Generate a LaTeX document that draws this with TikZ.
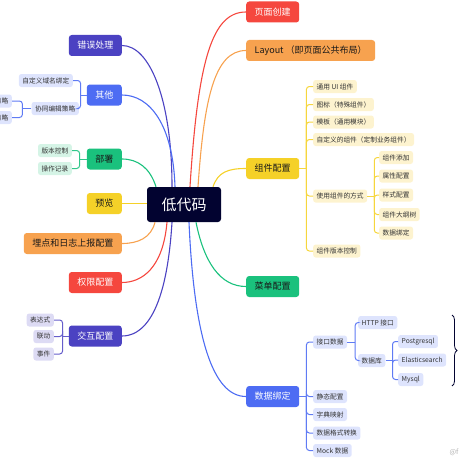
\documentclass[tikz,border=0pt]{standalone}
\usepackage{fontspec}
\setmainfont{Noto Sans CJK SC}
\usetikzlibrary{decorations.pathreplacing}

\definecolor{navy}{HTML}{020330}
\definecolor{mred}{HTML}{F5473E}
\definecolor{morange}{HTML}{F7A24F}
\definecolor{myellow}{HTML}{F5D128}
\definecolor{mgreen}{HTML}{1AC17D}
\definecolor{mblue}{HTML}{4D6CF3}
\definecolor{mindigo}{HTML}{4B42C2}
\definecolor{lyellow}{HTML}{FDF3CF}
\definecolor{lblue}{HTML}{DEE4FD}
\definecolor{lgreen}{HTML}{D5F4E6}
\definecolor{lindigo}{HTML}{DDDBF4}
\definecolor{leaftext}{HTML}{333333}

\tikzset{
  root/.style={fill=navy, text=white, rounded corners=3pt, font=\fontsize{15}{16}\selectfont,
    minimum height=35pt, inner xsep=14.5pt, inner ysep=0pt},
  topic/.style={rounded corners=3pt, font=\fontsize{9}{10}\selectfont,
    minimum height=21pt, inner xsep=8.5pt, inner ysep=0pt, text=black!90},
  leaf/.style={rounded corners=2.5pt, font=\fontsize{6.7}{7}\selectfont,
    minimum height=13pt, inner xsep=3.5pt, inner ysep=0pt, text=leaftext},
  wire/.style={line width=1.1pt},
  ylink/.style={line width=1pt, rounded corners=3pt, myellow!90!white},
  blink/.style={line width=1pt, rounded corners=3pt, mblue!90!white},
  glink/.style={line width=1pt, rounded corners=3pt, mgreen!90!white},
  ilink/.style={line width=1pt, rounded corners=3pt, mindigo!85!white},
}

\begin{document}
\begin{tikzpicture}[x=1pt, y=-1pt]
\useasboundingbox (0,0) rectangle (460,460);

% 中心主题
\node[root] (core) at (184,204.5) {低代码};

% 右侧分支
\node[topic, fill=mred, text=white, anchor=west] (page) at (246,12) {页面创建};
\node[topic, fill=morange, anchor=west] (layout) at (246,50.5) {Layout （即页面公共布局）};
\node[topic, fill=myellow, anchor=west] (comp) at (246,168.5) {组件配置};
\node[topic, fill=mgreen, anchor=west] (menu) at (246,286.5) {菜单配置};
\node[topic, fill=mblue, text=white, anchor=west] (bind) at (246,396.5) {数据绑定};

% 左侧分支
\node[topic, fill=mindigo, text=white, anchor=east] (err) at (122,45.5) {错误处理};
\node[topic, fill=mblue, text=white, anchor=east] (misc) at (122,95) {其他};
\node[topic, fill=mgreen, anchor=east] (deploy) at (122,159) {部署};
\node[topic, fill=myellow, anchor=east] (preview) at (122,203.5) {预览};
\node[topic, fill=morange, anchor=east] (track) at (122,243.5) {埋点和日志上报配置};
\node[topic, fill=mred, text=white, anchor=east] (auth) at (122,282.5) {权限配置};
\node[topic, fill=mindigo, text=white, anchor=east] (inter) at (122,336) {交互配置};

% 主干曲线
\draw[wire, mred] ([xshift=6pt]core.north) .. controls (198,60) and (212,12) .. (page.west);
\draw[wire, morange] ([xshift=14pt]core.north) .. controls (204,100) and (214,50.5) .. (layout.west);
\draw[wire, myellow] ([xshift=29pt]core.north) .. controls (218,172) and (228,168.5) .. (comp.west);
\draw[wire, mgreen] ([xshift=12pt]core.south) .. controls (204,262) and (220,286.5) .. (menu.west);
\draw[wire, mblue] ([xshift=5pt]core.south) .. controls (194,335) and (212,396.5) .. (bind.west);
\draw[wire, mindigo] ([xshift=-12pt]core.north) .. controls (172,100) and (150,45.5) .. (err.east);
\draw[wire, mblue] ([xshift=-9pt]core.north) .. controls (173,125) and (150,95) .. (misc.east);
\draw[wire, mgreen] ([xshift=-28pt]core.north) .. controls (150,168) and (138,159) .. (deploy.east);
\draw[wire, myellow] (core.west |- preview.east) -- (preview.east);
\draw[wire, morange] ([xshift=-29pt]core.south) .. controls (151,238) and (138,243.5) .. (track.east);
\draw[wire, mred] ([xshift=-17pt]core.south) .. controls (163,268) and (142,282.5) .. (auth.east);
\draw[wire, mindigo] ([xshift=-12pt]core.south) .. controls (166,320) and (140,336) .. (inter.east);

% 组件配置
\node[leaf, fill=lyellow, anchor=west] (c1) at (313,86.5) {通用 UI 组件};
\node[leaf, fill=lyellow, anchor=west] (c2) at (313,104.5) {图标（特殊组件）};
\node[leaf, fill=lyellow, anchor=west] (c3) at (313,122) {模板（通用模块）};
\node[leaf, fill=lyellow, anchor=west] (c4) at (313,139.5) {自定义的组件（定制业务组件）};
\node[leaf, fill=lyellow, anchor=west] (c5) at (313,196) {使用组件的方式};
\node[leaf, fill=lyellow, anchor=west] (c6) at (313,251) {组件版本控制};
\coordinate (cj) at ([xshift=7pt]comp.east);
\draw[ylink] (comp.east) -- (cj);
\foreach \n in {c1,c2,c3,c4,c5,c6}
  \draw[ylink] (cj) |- (\n.west);

\node[leaf, fill=lyellow, anchor=west] (u1) at (379,157.5) {组件添加};
\node[leaf, fill=lyellow, anchor=west] (u2) at (379,176) {属性配置};
\node[leaf, fill=lyellow, anchor=west] (u3) at (379,195) {样式配置};
\node[leaf, fill=lyellow, anchor=west] (u4) at (379,214.5) {组件大纲树};
\node[leaf, fill=lyellow, anchor=west] (u5) at (379,233) {数据绑定};
\coordinate (uj) at ([xshift=7pt]c5.east);
\draw[ylink] (c5.east) -- (uj);
\foreach \n in {u1,u2,u3,u4,u5}
  \draw[ylink] (uj) |- (\n.west);

% 数据绑定
\node[leaf, fill=lblue, anchor=west] (d1) at (313,342) {接口数据};
\node[leaf, fill=lblue, anchor=west] (d2) at (313,396.5) {静态配置};
\node[leaf, fill=lblue, anchor=west] (d3) at (313,414.5) {字典映射};
\node[leaf, fill=lblue, anchor=west] (d4) at (313,433) {数据格式转换};
\node[leaf, fill=lblue, anchor=west] (d5) at (313,450.5) {Mock 数据};
\coordinate (dj) at ([xshift=7pt]bind.east);
\draw[blink] (bind.east) -- (dj);
\foreach \n in {d1,d2,d3,d4,d5}
  \draw[blink] (dj) |- (\n.west);

\node[leaf, fill=lblue, anchor=west] (h1) at (358,322.5) {HTTP 接口};
\node[leaf, fill=lblue, anchor=west] (h2) at (358,360.5) {数据库};
\coordinate (hj) at ([xshift=8pt]d1.east);
\draw[blink] (d1.east) -- (hj);
\foreach \n in {h1,h2}
  \draw[blink] (hj) |- (\n.west);

\node[leaf, fill=lblue, anchor=west] (s1) at (398,341.5) {Postgresql};
\node[leaf, fill=lblue, anchor=west] (s2) at (398,360) {Elasticsearch};
\node[leaf, fill=lblue, anchor=west] (s3) at (398,379.5) {Mysql};
\coordinate (sj) at ([xshift=7pt]h2.east);
\draw[blink] (h2.east) -- (sj);
\foreach \n in {s1,s2,s3}
  \draw[blink] (sj) |- (\n.west);

% 右侧括号
\coordinate (bt) at (452,315);
\coordinate (bb) at (452,386);
\draw[navy, line width=0.8pt, decorate, decoration={brace, amplitude=5pt}] (bt) -- (bb);

% 其他
\node[leaf, fill=lblue, anchor=east] (o1) at (73,80.5) {自定义域名绑定};
\node[leaf, fill=lblue, anchor=east] (o2) at (79,108.5) {协同编辑策略};
\coordinate (oj) at ([xshift=-6pt]misc.west);
\draw[blink] (misc.west) -- (oj);
\foreach \n in {o1,o2}
  \draw[blink] (oj) |- (\n.east);

\node[leaf, fill=lblue, anchor=east] (p1) at (12,101) {策略};
\node[leaf, fill=lblue, anchor=east] (p2) at (12,117.5) {策略};
\coordinate (pj) at ([xshift=-9pt]o2.west);
\draw[blink] (o2.west) -- (pj);
\foreach \n in {p1,p2}
  \draw[blink] (pj) |- (\n.east);

% 部署
\node[leaf, fill=lgreen, anchor=east] (v1) at (72,150.5) {版本控制};
\node[leaf, fill=lgreen, anchor=east] (v2) at (72,168.5) {操作记录};
\coordinate (vj) at ([xshift=-7pt]deploy.west);
\draw[glink] (deploy.west) -- (vj);
\foreach \n in {v1,v2}
  \draw[glink] (vj) |- (\n.east);

% 交互配置
\node[leaf, fill=lindigo, anchor=east] (e1) at (54,320) {表达式};
\node[leaf, fill=lindigo, anchor=east] (e2) at (54,336.5) {联动};
\node[leaf, fill=lindigo, anchor=east] (e3) at (54,354) {事件};
\coordinate (ej) at ([xshift=-6pt]inter.west);
\draw[ilink] (inter.west) -- (ej);
\foreach \n in {e1,e2,e3}
  \draw[ilink] (ej) |- (\n.east);

% 水印
\node[font=\fontsize{7}{8}\selectfont, text=black!30, anchor=west] (mark) at (446,452) {@f};
\end{tikzpicture}
\end{document}
